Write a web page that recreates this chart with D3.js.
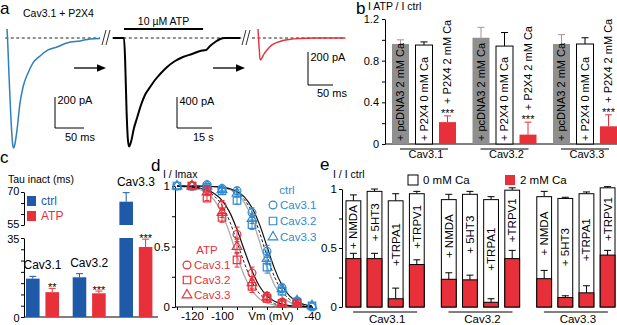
<!DOCTYPE html>
<html><head><meta charset="utf-8">
<script src="https://cdn.jsdelivr.net/npm/d3@7"></script>
<style>
body{margin:0;background:#fff}
svg{display:block}
text{font-family:"Liberation Sans",Arial,sans-serif}
</style></head><body>
<svg id="fig" width="617" height="325"></svg>
<script>
// ================= DATA =================
// Panel a: current traces (time, current)
const blueT = [0, 0.9, 3.4, 6.9, 9.5, 10.9, 12.9, 17.2, 22.4, 27.6, 36.2, 44.8, 56.9, 70.7, 86.2, 103, 126, 143, 160]; // ms
const blueI = [58, 0, -239, -529, -677, -710, -697, -594, -419, -316, -226, -161, -116, -77, -58, -32, -19, -6, -3]; // pA
const blackT = [0, 4.7, 5.2, 5.8, 6.4, 6.9, 7.7, 9.0, 10.3, 12.0, 13.7, 15.9, 18.0, 20.2, 23.2, 26.6, 30.0, 33.9, 37.3, 39.9, 41.6, 43.8, 45.9, 48.0, 54.5]; // s
const blackI = [0, 0, -284, -929, -1316, -1400, -1342, -1161, -1032, -865, -735, -632, -542, -465, -374, -297, -245, -206, -168, -155, -103, -52, -13, 0, 0]; // pA
const redT = [0, 1, 2.6, 3.6, 5, 8, 12, 18, 28, 38, 50, 64, 84, 114, 174]; // ms
const redI = [55, 0, -73, -115, -133, -121, -97, -73, -42, -27, -15, -8, -3, 0, 0]; // pA
const atpOnOff = [4.7, 38.6]; // s

// Panel b
const bGroups = ["Cav3.1", "Cav3.2", "Cav3.3"];
const bLabels = ["+ pcDNA3 2 mM Ca", "+ P2X4 0 mM Ca", "+ P2X4 2 mM Ca"];
const bGray = [0.96, 1.02, 0.96];
const bGrayErr = [0.04, 0.10, 0.09];
const bWhite = [0.95, 0.94, 0.96];
const bWhiteErr = [0.03, 0.13, 0.06];
const bRed = [0.21, 0.09, 0.17];
const bRedErr = [0.06, 0.12, 0.11];
const bTicks = [0, 0.2, 0.4, 0.6, 0.8, 1.0, 1.2];
const bTickLabels = [0, 0.4, 0.8, 1.2];

// Panel c
const cGroups = ["Cav3.1", "Cav3.2", "Cav3.3"];
const cCtrl = [17.0, 17.6, 65.6];
const cCtrlErr = [1.0, 1.6, 4.1];
const cATP = [11.0, 10.5, 31.0];
const cATPErr = [1.7, 1.0, 3.5];
const cStars = ["**", "***", "***"];
const cTicksLow = [0, 5, 10, 15, 20, 25, 30, 35];
const cTicksHigh = [55, 60, 65, 70];

// Panel d
const dV = [-130, -120, -110, -100, -90, -80, -70, -60, -50, -40];
const dCtrl31 = [1.0, 1.0, 1.01, 0.98, 0.96, 0.78, 0.46, 0.16, 0.05, 0.0];
const dCtrl32 = [1.0, 1.0, 0.99, 0.96, 0.88, 0.68, 0.33, 0.13, 0.04, 0.01];
const dCtrl33 = [1.0, 1.0, 1.0, 0.97, 0.94, 0.73, 0.40, 0.15, 0.05, 0.01];
const dCtrlErr = [0, 0, 0.01, 0.02, 0.03, 0.04, 0.05, 0.03, 0.02, 0];
const dATP31 = [null, 1.0, 0.97, 0.84, 0.60, 0.28, 0.09, 0.04, 0.03, null];
const dATP32 = [null, 1.0, 0.90, 0.74, 0.39, 0.17, 0.07, 0.03, 0.03, null];
const dATP33 = [null, 1.0, 0.95, 0.78, 0.50, 0.20, 0.08, 0.03, 0.02, null];
const dATPErr = [0, 0, 0.02, 0.04, 0.06, 0.05, 0.03, 0.02, 0.01, 0];
const fitV = [-130, -120, -115, -110, -105, -100, -95, -90, -85, -80, -75, -70, -65, -60, -55, -50, -45, -40];
const fitCtrlBlack = [1.0, 1.0, 0.999, 0.998, 0.995, 0.99, 0.979, 0.954, 0.908, 0.82, 0.683, 0.5, 0.317, 0.18, 0.092, 0.046, 0.021, 0.01];
const fitCtrlGray = [1.0, 1.0, 0.999, 0.998, 0.994, 0.987, 0.971, 0.935, 0.862, 0.731, 0.542, 0.339, 0.182, 0.088, 0.04, 0.018, 0.008, 0.003];
const fitCtrlDash = [1.0, 1.0, 0.999, 0.998, 0.995, 0.988, 0.975, 0.946, 0.886, 0.783, 0.618, 0.42, 0.25, 0.13, 0.064, 0.03, 0.014, 0.006];
const fitATPBlack = [0.998, 0.992, 0.984, 0.968, 0.935, 0.881, 0.786, 0.64, 0.465, 0.3, 0.171, 0.092, 0.047, 0.024, 0.012, 0.006, 0.003, 0.001];
const fitATPGray = [0.997, 0.987, 0.971, 0.94, 0.881, 0.775, 0.614, 0.424, 0.255, 0.138, 0.069, 0.033, 0.016, 0.007, 0.004, 0.002, 0.001, 0.0];
const fitATPDash = [0.998, 0.99, 0.98, 0.958, 0.915, 0.84, 0.712, 0.537, 0.36, 0.21, 0.11, 0.057, 0.027, 0.013, 0.006, 0.003, 0.001, 0.0];
const dXTicks = [-130, -120, -110, -100, -90, -80, -70, -60, -50, -40];
const dXLabels = [-120, -100, -40];
const dYTicks = [0, 0.25, 0.5, 0.75, 1];
const dYLabels = [0, 0.5, 1];

// Panel e
const eGroups = ["Cav3.1", "Cav3.2", "Cav3.3"];
const eRec = ["+ NMDA", "+ 5HT3", "+TRPA1", "+TRPV1"];
const e0Ca = [[0.90, 0.98, 0.90, 0.96], [0.91, 0.955, 0.91, 0.99], [0.935, 0.92, 0.96, 1.01]];
const e0CaErr = [[0.05, 0.02, 0.06, 0.02], [0.045, 0.025, 0.025, 0.02], [0.045, 0.01, 0.015, 0.01]];
const e2Ca = [[0.41, 0.41, 0.07, 0.36], [0.235, 0.23, 0.04, 0.41], [0.24, 0.08, 0.12, 0.44]];
const e2CaErr = [[0.045, 0.045, 0.09, 0.04], [0.055, 0.04, 0.03, 0.07], [0.07, 0.015, 0.06, 0.04]];
const eTicks = [0, 0.25, 0.5, 0.75, 1];
const eTickLabels = [0, 0.5, 1];

// ================= DRAW =================
const FONT = '"Liberation Sans", Arial, sans-serif';
const RED = "#e8303a", CBLUE = "#1f5aa8", TBLUE = "#2f7fc0", DBLUE = "#2f8ad0", GRAY = "#8f8f8f";
const svg = d3.select("#fig");

function text(g, x, y, s, o = {}) {
  return g.append("text").attr("x", x).attr("y", y).text(s)
    .attr("font-size", o.size || 11).attr("fill", o.color || "#000")
    .attr("text-anchor", o.anchor || "start");
}
function vtext(g, x, y, s, anchor, size, color) {
  return g.append("text").attr("transform", `translate(${x},${y}) rotate(-90)`)
    .attr("dy", "0.35em").attr("text-anchor", anchor).attr("font-size", size)
    .attr("fill", color || "#000").text(s);
}
function line(g, x1, y1, x2, y2, color, w) {
  return g.append("line").attr("x1", x1).attr("y1", y1).attr("x2", x2).attr("y2", y2)
    .attr("stroke", color || "#000").attr("stroke-width", w || 1);
}
function errBar(g, x, y0, y1, color, cap) {
  line(g, x, y0, x, y1, color, 1);
  line(g, x - cap, y1, x + cap, y1, color, 1);
}
function styleAxis(g, size) {
  g.attr("font-family", FONT).attr("font-size", size);
  g.selectAll("path.domain").attr("stroke", "#000").attr("stroke-width", 1);
  g.selectAll(".tick line").attr("stroke", "#000");
  g.selectAll(".tick text").attr("fill", "#000");
}
function fmt(labels) { return d => labels.some(l => Math.abs(l - d) < 1e-9) ? String(d) : ""; }

// ---------- Panel a ----------
const gA = svg.append("g");
text(gA, 0, 14, "a", { size: 17 });
text(gA, 23, 17, "Cav3.1 + P2X4", { size: 10.5 });
const xA1 = d3.scaleLinear().domain([0, 160]).range([7, 100]);
const yA1 = d3.scaleLinear().domain([0, -710]).range([38, 148]);
const xA2 = d3.scaleLinear().domain([0, 48]).range([113, 225]);
const yA2 = d3.scaleLinear().domain([0, -1400]).range([38, 146.5]);
const xA3 = d3.scaleLinear().domain([0, 174]).range([258, 345]);
const yA3 = d3.scaleLinear().domain([0, -200]).range([38, 71]);

[[xA1, yA1, -3, 160], [xA2, yA2, -0.3, 55], [xA3, yA3, -12, 176]].forEach(([xs, ys, a, b]) => {
  line(gA, xs(a), ys(0), xs(b), ys(0), "#222", 1).attr("stroke-dasharray", "3,2.5");
});
function trace(T, I, xs, ys, color, w) {
  gA.append("path").datum(d3.range(T.length))
    .attr("d", d3.line().x(i => xs(T[i])).y(i => ys(I[i])).curve(d3.curveMonotoneX))
    .attr("fill", "none").attr("stroke", color).attr("stroke-width", w);
}
trace(blueT, blueI, xA1, yA1, TBLUE, 1.5);
trace(blackT, blackI, xA2, yA2, "#000", 2);
trace(redT, redI, xA3, yA3, RED, 1.4);

line(gA, xA2(atpOnOff[0]), 29, xA2(atpOnOff[1]), 29, "#000", 2);
text(gA, (xA2(atpOnOff[0]) + xA2(atpOnOff[1])) / 2, 25, "10 µM ATP", { size: 10.5, anchor: "middle" });

function breakMark(x) {
  line(gA, x - 4, 45, x, 30, "#333", 1);
  line(gA, x, 45, x + 4, 30, "#333", 1);
}
breakMark(106); breakMark(246);

function arrow(x1, x2, y) {
  line(gA, x1, y, x2 - 6, y, "#000", 1.3);
  gA.append("path").attr("d", `M${x2},${y}L${x2 - 9},${y - 3.8}L${x2 - 9},${y + 3.8}Z`).attr("fill", "#000");
}
arrow(74, 106, 68); arrow(213, 245, 68);

function scaleBar(x0, y0, pxV, pxH, lv, lh, lvx, lvy, lhx, lhy) {
  line(gA, x0, y0 - pxV, x0, y0, "#000", 1);
  line(gA, x0, y0, x0 + pxH, y0, "#000", 1);
  text(gA, lvx, lvy, lv, { size: 11 });
  text(gA, lhx, lhy, lh, { size: 11 });
}
scaleBar(55, 128, yA1(-200) - yA1(0), xA1(50) - xA1(0), "200 pA", "50 ms", 57.5, 104, 65, 141);
scaleBar(177, 128, yA2(-400) - yA2(0), xA2(15) - xA2(0), "400 pA", "15 s", 179.5, 105, 193, 141);
scaleBar(308, 85, yA3(-200) - yA3(0), xA3(50) - xA3(0), "200 pA", "50 ms", 310.5, 61, 317, 97);

// ---------- Panel b ----------
const gB = svg.append("g");
text(gB, 356, 14, "b", { size: 17 });
text(gB, 368, 10, "I ATP / I ctrl", { size: 10.5 });
const yB = d3.scaleLinear().domain([0, 1.2]).range([144, 19]);
const xB = d3.scaleBand().domain(bGroups).range([392, 617]).paddingInner(0.205);
const xBi = d3.scaleBand().domain([0, 1, 2]).range([0, xB.bandwidth()]).paddingInner(0.277);
const axB = gB.append("g").attr("transform", "translate(385,0)")
  .call(d3.axisLeft(yB).tickValues(bTicks).tickFormat(fmt(bTickLabels)).tickSize(3).tickSizeOuter(0).tickPadding(3));
styleAxis(axB, 11);
line(gB, 385, yB(0), 617, yB(0), "#000", 1);
bGroups.forEach((g, i) => {
  const x0 = xB(g), bw = xBi.bandwidth();
  const series = [
    { v: bGray[i], e: bGrayErr[i], fill: GRAY, stroke: "none", ec: "#9a9a9a" },
    { v: bWhite[i], e: bWhiteErr[i], fill: "#fff", stroke: "#000", ec: "#000" },
    { v: bRed[i], e: bRedErr[i], fill: RED, stroke: "none", ec: RED }
  ];
  series.forEach((s, j) => {
    const x = x0 + xBi(j);
    errBar(gB, x + bw / 2, yB(s.v), yB(s.v + s.e), s.ec, 3.5);
    gB.append("rect").attr("x", x).attr("y", yB(s.v)).attr("width", bw).attr("height", yB(0) - yB(s.v))
      .attr("fill", s.fill).attr("stroke", s.stroke).attr("stroke-width", 1);
    if (j < 2) vtext(gB, x + bw / 2, yB(0) - 3, bLabels[j], "start", 11);
    else {
      const et = yB(s.v + s.e);
      text(gB, x + bw / 2, et + 1, "***", { size: 11, anchor: "middle" });
      vtext(gB, x + bw / 2, et - 12, bLabels[j], "start", 11);
    }
  });
  const cx = x0 + xB.bandwidth() / 2;
  line(gB, cx - 24, 149, cx + 24, 149, "#000", 1);
  text(gB, cx + 2, 158, g, { size: 11, anchor: "middle" });
});

// ---------- Panel c ----------
const gC = svg.append("g");
text(gC, 0, 163, "c", { size: 17 });
text(gC, 8, 183, "Tau inact (ms)", { size: 10.5 });
const yCl = d3.scaleLinear().domain([0, 35]).range([317, 238]);
const yCu = d3.scaleLinear().domain([55, 70]).range([225, 192]);
const xC = d3.scaleBand().domain(cGroups).range([26, 152.4]).paddingInner(0.293);
const xCi = d3.scaleBand().domain([0, 1]).range([0, xC.bandwidth()]).paddingInner(0.3);
const axCl = gC.append("g").attr("transform", "translate(24,0)")
  .call(d3.axisLeft(yCl).tickValues(cTicksLow).tickFormat(fmt([0, 35])).tickSize(3).tickSizeOuter(0).tickPadding(1.5));
styleAxis(axCl, 11);
const axCu = gC.append("g").attr("transform", "translate(24,0)")
  .call(d3.axisLeft(yCu).tickValues(cTicksHigh).tickFormat(fmt([55, 70])).tickSize(3).tickSizeOuter(0).tickPadding(1.5));
styleAxis(axCu, 11);
axCu.selectAll(".tick text").attr("dy", "0.25em");
axCl.selectAll(".tick text").attr("dy", "0.4em");
line(gC, 24, yCl(0), 158, yCl(0), "#000", 1);
function yCv(v) { return v > 35 ? yCu(v) : yCl(v); }
cGroups.forEach((g, i) => {
  const bw = xCi.bandwidth();
  [[cCtrl[i], cCtrlErr[i], CBLUE], [cATP[i], cATPErr[i], RED]].forEach(([v, e, col], j) => {
    const x = xC(g) + xCi(j);
    errBar(gC, x + bw / 2, yCv(v), yCv(v + e), col, 3.5);
    if (v > 35) {
      gC.append("rect").attr("x", x).attr("y", yCl(35)).attr("width", bw).attr("height", yCl(0) - yCl(35)).attr("fill", col);
      gC.append("rect").attr("x", x).attr("y", yCu(v)).attr("width", bw).attr("height", yCu(55) - yCu(v)).attr("fill", col);
    } else {
      gC.append("rect").attr("x", x).attr("y", yCl(v)).attr("width", bw).attr("height", yCl(0) - yCl(v)).attr("fill", col);
    }
    if (j === 1) text(gC, x + bw / 2, yCv(v + e) + 3, cStars[i], { size: 11, anchor: "middle" });
  });
  const ctop = yCv(cCtrl[i] + cCtrlErr[i]);
  text(gC, xC(g) + xC.bandwidth() / 2, ctop - 7, g, { size: 12, anchor: "middle" });
});
gC.append("rect").attr("x", 27).attr("y", 196).attr("width", 9).attr("height", 10).attr("fill", CBLUE);
text(gC, 41, 205, "ctrl", { size: 12, color: CBLUE });
gC.append("rect").attr("x", 27).attr("y", 211).attr("width", 9).attr("height", 10).attr("fill", RED);
text(gC, 41, 220, "ATP", { size: 12, color: RED });

// ---------- Panel d ----------
const gD = svg.append("g");
text(gD, 151, 171, "d", { size: 17 });
text(gD, 163, 178, "I / Imax", { size: 10.5 });
const xD = d3.scaleLinear().domain([-130, -40]).range([177, 312]);
const yD = d3.scaleLinear().domain([0, 1]).range([307, 186]);
const axDy = gD.append("g").attr("transform", "translate(175,0)")
  .call(d3.axisLeft(yD).tickValues(dYTicks).tickFormat(fmt(dYLabels)).tickSize(3).tickSizeOuter(0).tickPadding(2));
styleAxis(axDy, 11.5);
const axDx = gD.append("g").attr("transform", "translate(0,307)")
  .call(d3.axisBottom(xD).tickValues(dXTicks).tickFormat(fmt(dXLabels)).tickSize(3).tickSizeOuter(0).tickPadding(2));
styleAxis(axDx, 11.5);
axDx.select("path.domain").attr("d", `M175,0H${xD(-40) + 1}`);
text(gD, 271, 320, "Vm (mV)", { size: 11.5, anchor: "middle" });
const fitLine = d3.line().curve(d3.curveMonotoneX);
function fit(arr, color, dash, w) {
  gD.append("path").attr("d", fitLine(fitV.map((v, i) => [xD(v), yD(arr[i])])))
    .attr("fill", "none").attr("stroke", color).attr("stroke-width", w).attr("stroke-dasharray", dash || null);
}
fit(fitCtrlGray, "#aaaaaa", null, 1.3);
fit(fitATPGray, "#aaaaaa", null, 1.3);
fit(fitCtrlDash, "#222", "3,2", 1);
fit(fitATPDash, "#222", "3,2", 1);
fit(fitCtrlBlack, "#111", null, 1.2);
fit(fitATPBlack, "#111", null, 1.2);
const symSize = { circle: 48, square: 56, triangle: 40 };
const symType = { circle: d3.symbolCircle, square: d3.symbolSquare, triangle: d3.symbolTriangle };
function sym(g, type, x, y, color) {
  g.append("path").attr("transform", `translate(${x},${y})`)
    .attr("d", d3.symbol().type(symType[type]).size(symSize[type])())
    .attr("fill", "none").attr("stroke", color).attr("stroke-width", 1.2);
}
function series(vals, errs, type, color) {
  vals.forEach((v, i) => {
    if (v === null) return;
    const x = xD(dV[i]);
    if (errs[i] > 0) {
      line(gD, x, yD(v - errs[i]), x, yD(v + errs[i]), color, 1);
      line(gD, x - 2.5, yD(v + errs[i]), x + 2.5, yD(v + errs[i]), color, 1);
      line(gD, x - 2.5, yD(v - errs[i]), x + 2.5, yD(v - errs[i]), color, 1);
    }
    sym(gD, type, x, yD(v), color);
  });
}
series(dCtrl31, dCtrlErr, "circle", DBLUE);
series(dCtrl32, dCtrlErr, "square", DBLUE);
series(dCtrl33, dCtrlErr, "triangle", DBLUE);
series(dATP31, dATPErr, "circle", RED);
series(dATP32, dATPErr, "square", RED);
series(dATP33, dATPErr, "triangle", RED);
text(gD, 287, 194, "ctrl", { size: 11.5, anchor: "middle", color: DBLUE });
[["circle", "Cav3.1"], ["square", "Cav3.2"], ["triangle", "Cav3.3"]].forEach(([t, s], i) => {
  sym(gD, t, 273, 205 + i * 16, DBLUE);
  text(gD, 280, 209 + i * 16, s, { size: 11.5, color: DBLUE });
  sym(gD, t, 187, 265 + i * 15, RED);
  text(gD, 194, 269 + i * 15, s, { size: 11.5, color: RED });
});
text(gD, 207, 254, "ATP", { size: 11.5, anchor: "middle", color: RED });

// ---------- Panel e ----------
const gE = svg.append("g");
text(gE, 320, 170, "e", { size: 17 });
text(gE, 333, 178, "I / I ctrl", { size: 10.5 });
const yE = d3.scaleLinear().domain([0, 1]).range([307, 189]);
const xE = d3.scaleBand().domain(eGroups).range([346, 615]).paddingInner(0.18);
const xEi = d3.scaleBand().domain(d3.range(eRec.length)).range([0, xE.bandwidth()]).paddingInner(0.3);
const axE = gE.append("g").attr("transform", "translate(342,0)")
  .call(d3.axisLeft(yE).tickValues(eTicks).tickFormat(fmt(eTickLabels)).tickSize(3).tickSizeOuter(0).tickPadding(2));
styleAxis(axE, 11.5);
eGroups.forEach((g, i) => {
  const bw = xEi.bandwidth();
  eRec.forEach((r, j) => {
    const x = xE(g) + xEi(j), cx = x + bw / 2;
    const w = e0Ca[i][j], we = e0CaErr[i][j], rd = e2Ca[i][j], re = e2CaErr[i][j];
    errBar(gE, cx, yE(w), yE(w + we), "#000", 3.5);
    gE.append("rect").attr("x", x).attr("y", yE(w)).attr("width", bw).attr("height", yE(0) - yE(w))
      .attr("fill", "#fff").attr("stroke", "#000").attr("stroke-width", 1);
    gE.append("rect").attr("x", x).attr("y", yE(rd)).attr("width", bw).attr("height", yE(0) - yE(rd))
      .attr("fill", RED).attr("stroke", "#000").attr("stroke-width", 1);
    errBar(gE, cx, yE(rd), yE(rd + re), "#000", 3.5);
    const mid = (yE(w) + yE(rd + re)) / 2;
    vtext(gE, cx, mid, r, "middle", 11.5);
  });
  const gc = xE(g) + xE.bandwidth() / 2;
  line(gE, gc - 32, 312, gc + 32, 312, "#000", 1);
  text(gE, gc + 2, 323, g, { size: 11.5, anchor: "middle" });
});
gE.append("rect").attr("x", 408).attr("y", 175).attr("width", 10).attr("height", 10).attr("fill", "#fff").attr("stroke", "#000");
text(gE, 423, 184, "0 mM Ca", { size: 11.5 });
gE.append("rect").attr("x", 505).attr("y", 175).attr("width", 10).attr("height", 10).attr("fill", RED);
text(gE, 520, 184, "2 mM Ca", { size: 11.5 });
</script></body></html>
